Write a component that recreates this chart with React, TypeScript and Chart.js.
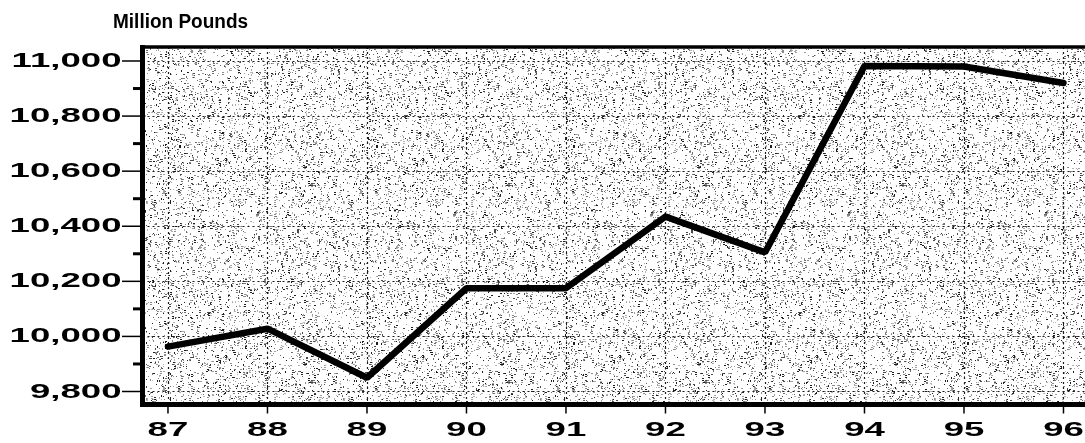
import React, { useEffect, useRef } from "react";
import { Chart, registerables } from "chart.js";

Chart.register(...registerables);

const years = [87, 88, 89, 90, 91, 92, 93, 94, 95, 96];
const xTickLabels = ["87", "88", "89", "90", "91", "92", "93", "94", "95", "96"];
const pounds = [9963, 10028, 9850, 10175, 10175, 10435, 10305, 10982, 10980, 10920];
const yTickValues = [9800, 10000, 10200, 10400, 10600, 10800, 11000];
const yTickLabels = ["9,800", "10,000", "10,200", "10,400", "10,600", "10,800", "11,000"];
const yMinorValues = [9900, 10100, 10300, 10500, 10700, 10900];
const unitTitle = "Million Pounds";

const FONT = "'Liberation Sans', Arial, sans-serif";

function makeTexture(): HTMLCanvasElement {
  const c = document.createElement("canvas");
  c.width = 197;
  c.height = 197;
  const g = c.getContext("2d")!;
  g.fillStyle = "#ffffff";
  g.fillRect(0, 0, c.width, c.height);
  let s = 12345;
  const rnd = () => {
    s = (s * 1103515245 + 12345) & 0x7fffffff;
    return s / 0x7fffffff;
  };
  const shades = ["#1e1e1e", "#4a4a4a", "#6e6e6e", "#8a8a8a", "#a0a0a0", "#b4b4b4"];
  for (let i = 0; i < 3600; i++) {
    const x = Math.floor(rnd() * c.width);
    const y = Math.floor(rnd() * c.height);
    g.fillStyle = shades[Math.floor(rnd() * shades.length)];
    const k = rnd();
    if (k < 0.55) g.fillRect(x, y, 1, 1);
    else if (k < 0.75) g.fillRect(x, y, 2, 1);
    else if (k < 0.9) g.fillRect(x, y, 1, 2);
    else {
      g.fillRect(x, y, 2, 1);
      g.fillRect(x, y + 2, 2, 1);
    }
  }
  return c;
}

const decorPlugin = {
  id: "decor",
  beforeDatasetsDraw(chart: any) {
    const ctx = chart.ctx as CanvasRenderingContext2D;
    const a = chart.chartArea;
    const xs = chart.scales.x;
    const ys = chart.scales.y;
    ctx.save();
    const tex = makeTexture();
    const pat = ctx.createPattern(tex, "repeat");
    if (pat) {
      ctx.fillStyle = pat;
      ctx.fillRect(a.left, a.top, a.right - a.left, a.bottom - a.top);
    }
    ctx.strokeStyle = "#1a1a1a";
    ctx.lineWidth = 1.2;
    ctx.setLineDash([2, 3]);
    yTickValues.forEach((v) => {
      const y = Math.round(ys.getPixelForValue(v)) + 0.5;
      ctx.beginPath();
      ctx.moveTo(a.left, y);
      ctx.lineTo(a.right, y);
      ctx.stroke();
    });
    years.forEach((v) => {
      const x = Math.round(xs.getPixelForValue(v)) + 0.5;
      ctx.beginPath();
      ctx.moveTo(x, a.top);
      ctx.lineTo(x, a.bottom);
      ctx.stroke();
    });
    ctx.restore();
  },
  afterDatasetsDraw(chart: any) {
    const ctx = chart.ctx as CanvasRenderingContext2D;
    const a = chart.chartArea;
    const xs = chart.scales.x;
    const ys = chart.scales.y;
    ctx.save();
    ctx.setLineDash([]);
    ctx.strokeStyle = "#000";
    ctx.lineCap = "butt";
    ctx.lineWidth = 5;
    ctx.beginPath();
    ctx.moveTo(a.left, a.top - 2);
    ctx.lineTo(a.left, a.bottom + 2.5);
    ctx.moveTo(a.left - 2.5, a.bottom);
    ctx.lineTo(a.right, a.bottom);
    ctx.moveTo(a.right, a.top);
    ctx.lineTo(a.right, a.bottom);
    ctx.stroke();
    ctx.lineWidth = 3.5;
    ctx.beginPath();
    ctx.moveTo(a.left, a.top);
    ctx.lineTo(a.right, a.top);
    ctx.stroke();
    ctx.lineWidth = 1.5;
    yTickValues.forEach((v) => {
      const y = ys.getPixelForValue(v);
      ctx.beginPath();
      ctx.moveTo(a.left - 20.5, y);
      ctx.lineTo(a.left, y);
      ctx.stroke();
    });
    ctx.lineWidth = 3;
    yMinorValues.forEach((v) => {
      const y = ys.getPixelForValue(v);
      ctx.beginPath();
      ctx.moveTo(a.left - 9.5, y);
      ctx.lineTo(a.left, y);
      ctx.stroke();
    });
    ctx.lineWidth = 1.5;
    years.forEach((v) => {
      const x = xs.getPixelForValue(v);
      ctx.beginPath();
      ctx.moveTo(x, a.bottom + 2);
      ctx.lineTo(x, a.bottom + 9);
      ctx.stroke();
    });
    ctx.fillStyle = "#000";
    ctx.font = `bold 20px ${FONT}`;
    ctx.textBaseline = "middle";
    ctx.textAlign = "right";
    yTickValues.forEach((v, i) => {
      const y = ys.getPixelForValue(v);
      ctx.save();
      ctx.translate(a.left - 21, y + 0.5);
      ctx.scale(1.83, 1);
      ctx.fillText(yTickLabels[i], 0, 0);
      ctx.restore();
    });
    ctx.textAlign = "center";
    years.forEach((v, i) => {
      const x = xs.getPixelForValue(v);
      ctx.save();
      ctx.translate(x, 430);
      ctx.scale(1.83, 1);
      ctx.fillText(xTickLabels[i], 0, 0);
      ctx.restore();
    });
    ctx.textAlign = "left";
    ctx.textBaseline = "alphabetic";
    ctx.font = `bold 20px ${FONT}`;
    ctx.save();
    ctx.translate(113, 27.5);
    ctx.scale(0.95, 1);
    ctx.fillText(unitTitle, 0, 0);
    ctx.restore();
    ctx.restore();
  },
};

export default function App() {
  const ref = useRef<HTMLCanvasElement | null>(null);
  useEffect(() => {
    if (!ref.current) return;
    const chart = new Chart(ref.current, {
      type: "line",
      data: {
        datasets: [
          {
            data: years.map((x, i) => ({ x, y: pounds[i] })),
            borderColor: "#000",
            borderWidth: 6.5,
            pointRadius: 0,
            tension: 0,
            borderJoinStyle: "bevel",
            borderCapStyle: "round",
            fill: false,
          },
        ],
      },
      options: {
        animation: false,
        responsive: false,
        devicePixelRatio: 1,
        layout: { padding: { top: 47, left: 0, right: 0, bottom: 0 } },
        plugins: { legend: { display: false }, tooltip: { enabled: false } },
        scales: {
          x: {
            type: "linear",
            min: 86.744,
            max: 96.367,
            grid: { display: false },
            border: { display: false },
            ticks: { display: false },
            afterFit: (s: any) => {
              s.height = 38.5;
            },
          },
          y: {
            type: "linear",
            min: 9752.8,
            max: 11050.8,
            grid: { display: false },
            border: { display: false },
            ticks: { display: false },
            afterFit: (s: any) => {
              s.width = 142.5;
            },
          },
        },
      } as any,
      plugins: [decorPlugin],
    });
    return () => chart.destroy();
  }, []);
  return (
    <div
      style={{
        position: "fixed",
        left: 0,
        top: 0,
        width: 1085,
        height: 443,
        overflow: "hidden",
        background: "#fff",
      }}
    >
      <canvas ref={ref} width={1100} height={443} style={{ display: "block" }} />
    </div>
  );
}
